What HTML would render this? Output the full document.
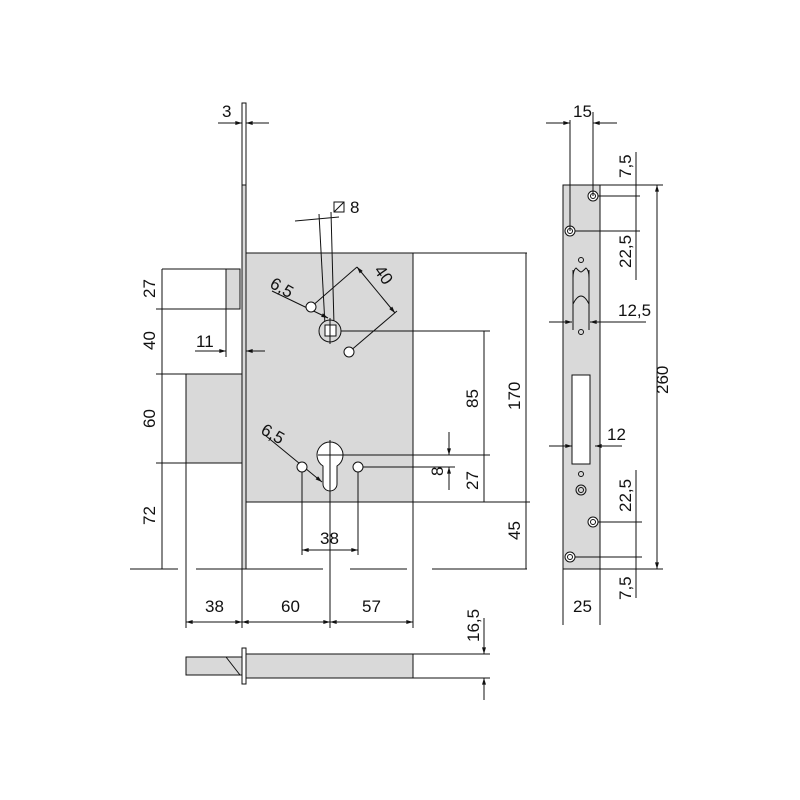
<!DOCTYPE html><html><head><style>body{margin:0;background:#fff}svg{display:block}text{font-family:"Liberation Sans",sans-serif;font-size:17px;fill:#111}</style></head><body>
<svg width="800" height="800" viewBox="0 0 800 800" xmlns="http://www.w3.org/2000/svg">
<defs><marker id="a" viewBox="0 0 10 6" refX="10" refY="3" markerWidth="8" markerHeight="4" orient="auto-start-reverse"><path d="M0,0L10,3L0,6z" fill="#111"/></marker></defs>
<g stroke="#111" stroke-width="1" fill="none">
<rect x="242" y="103" width="4" height="466" fill="#fff"/>
<rect x="242" y="185" width="4" height="384" fill="#d9d9d9"/>
<rect x="246" y="253" width="167" height="249" fill="#d9d9d9"/>
<rect x="226" y="269" width="14" height="40" fill="#d9d9d9"/>
<line x1="162" y1="269" x2="240" y2="269"/><line x1="156" y1="309" x2="240" y2="309"/>
<rect x="186" y="374" width="56" height="89" fill="#d9d9d9"/>
<line x1="156" y1="374" x2="186" y2="374"/><line x1="156" y1="463" x2="186" y2="463"/>
<line x1="186" y1="463" x2="186" y2="628"/>
<line x1="162" y1="269" x2="162" y2="569"/>
<line x1="130" y1="569" x2="178" y2="569"/><line x1="196" y1="569" x2="323" y2="569"/><line x1="350" y1="569" x2="407" y2="569"/><line x1="432" y1="569" x2="527" y2="569"/>
<line x1="195" y1="351" x2="226" y2="351" marker-end="url(#a)"/><line x1="265" y1="351" x2="246" y2="351" marker-end="url(#a)"/>
<line x1="226" y1="309" x2="226" y2="357"/>
<line x1="218" y1="123" x2="242" y2="123" marker-end="url(#a)"/><line x1="269" y1="123" x2="246" y2="123" marker-end="url(#a)"/>
<line x1="242" y1="116" x2="242" y2="130"/><line x1="246" y1="116" x2="246" y2="130"/>
<line x1="295" y1="221" x2="339" y2="217"/><line x1="319" y1="214" x2="325" y2="325"/><line x1="331" y1="212" x2="334" y2="325"/>
<line x1="311" y1="307" x2="357" y2="267"/><line x1="349" y1="352" x2="397" y2="311"/><line x1="357" y1="267" x2="395" y2="313" marker-start="url(#a)" marker-end="url(#a)"/>
<line x1="272" y1="291" x2="328" y2="318" marker-end="url(#a)"/>
<line x1="266" y1="436" x2="322" y2="482" marker-end="url(#a)"/>
<circle cx="330" cy="331" r="11" fill="#d9d9d9"/><rect x="325" y="325" width="11" height="11" fill="#fff"/>
<line x1="330" y1="318" x2="330" y2="344"/>
<circle cx="311" cy="307" r="5" fill="#fff"/><circle cx="349" cy="352" r="5" fill="#fff"/>
<line x1="341" y1="331" x2="490" y2="331"/>
<path d="M323,466 A13,13 0 1 1 337,466 L337,484 A7,7 0 0 1 323,484 Z" fill="#fff"/>
<line x1="330" y1="440" x2="330" y2="628"/><line x1="318" y1="455" x2="490" y2="455"/>
<circle cx="302" cy="467" r="5" fill="#fff"/><circle cx="358" cy="467" r="5" fill="#fff"/>
<line x1="302" y1="472" x2="302" y2="555"/><line x1="358" y1="472" x2="358" y2="555"/>
<line x1="363" y1="467" x2="455" y2="467"/>
<line x1="302" y1="550" x2="358" y2="550" marker-start="url(#a)" marker-end="url(#a)"/>
<line x1="449" y1="432" x2="449" y2="455" marker-end="url(#a)"/><line x1="449" y1="490" x2="449" y2="467" marker-end="url(#a)"/>
<line x1="484" y1="331" x2="484" y2="502" />
<line x1="413" y1="253" x2="527" y2="253"/><line x1="413" y1="502" x2="530" y2="502"/>
<line x1="526" y1="253" x2="526" y2="569"/>
<line x1="413" y1="502" x2="413" y2="628"/>
<line x1="186" y1="622" x2="242" y2="622" marker-start="url(#a)" marker-end="url(#a)"/>
<line x1="242" y1="622" x2="330" y2="622" marker-start="url(#a)" marker-end="url(#a)"/>
<line x1="330" y1="622" x2="413" y2="622" marker-start="url(#a)" marker-end="url(#a)"/>
<line x1="242" y1="569" x2="242" y2="628"/>
<rect x="186" y="657" width="56" height="18" fill="#d9d9d9"/>
<line x1="226" y1="657" x2="240" y2="675"/>
<rect x="246" y="654" width="167" height="24" fill="#d9d9d9"/>
<rect x="242" y="648" width="4" height="36" fill="#fff"/>
<line x1="413" y1="654" x2="490" y2="654"/><line x1="413" y1="678" x2="490" y2="678"/>
<line x1="484" y1="618" x2="484" y2="654" marker-end="url(#a)"/><line x1="484" y1="700" x2="484" y2="678" marker-end="url(#a)"/>
<rect x="563" y="185" width="37" height="384" fill="#d9d9d9"/>
<rect x="572" y="375" width="18" height="89" fill="#fff"/>
<path d="M573,278 q0,-8 3,-10 q4,4 5,4 q1,0 5,-4 q3,2 3,10 M573,304 q4,-8 8,-8 q4,0 8,8" />
<line x1="573" y1="270" x2="573" y2="330"/><line x1="589" y1="270" x2="589" y2="330"/>
<circle cx="581" cy="260" r="2.5"/><circle cx="581" cy="332" r="2.5"/><circle cx="581" cy="474" r="2.5"/>
<circle cx="581" cy="490" r="5"/><circle cx="581" cy="490" r="2.5"/>
<g fill="#fff"><circle cx="593" cy="196" r="5"/><circle cx="570" cy="231" r="5"/><circle cx="593" cy="522" r="5"/><circle cx="570" cy="557" r="5"/></g>
<g><circle cx="593" cy="196" r="2.5"/><circle cx="570" cy="231" r="2.5"/><circle cx="593" cy="522" r="2.5"/><circle cx="570" cy="557" r="2.5"/></g>
<line x1="570" y1="120" x2="570" y2="231"/><line x1="593" y1="112" x2="593" y2="196"/>
<line x1="546" y1="123" x2="570" y2="123" marker-end="url(#a)"/><line x1="617" y1="123" x2="593" y2="123" marker-end="url(#a)"/>
<line x1="600" y1="185" x2="663" y2="185"/><line x1="600" y1="569" x2="663" y2="569"/>
<line x1="598" y1="196" x2="640" y2="196"/><line x1="575" y1="231" x2="640" y2="231"/>
<line x1="598" y1="522" x2="642" y2="522"/><line x1="575" y1="557" x2="642" y2="557"/>
<line x1="636" y1="152" x2="636" y2="280"/><line x1="636" y1="470" x2="636" y2="598"/>
<line x1="657" y1="185" x2="657" y2="569" marker-start="url(#a)" marker-end="url(#a)"/>
<line x1="549" y1="322" x2="572" y2="322" marker-end="url(#a)"/><line x1="646" y1="322" x2="590" y2="322" marker-end="url(#a)"/>
<line x1="549" y1="446" x2="572" y2="446" marker-end="url(#a)"/><line x1="622" y1="446" x2="595" y2="446" marker-end="url(#a)"/>
<line x1="563" y1="569" x2="563" y2="625"/><line x1="600" y1="569" x2="600" y2="625"/>
</g>
<text x="222" y="117">3</text>
<text x="350" y="213">8</text>
<path d="M334,202h10v10h-10zM334,212l10,-10" stroke="#111" fill="none"/>
<text x="270" y="294" transform="rotate(30 283 288)">6,5</text>
<text x="368" y="281" transform="rotate(55 381 281)">40</text>
<text x="260" y="440" transform="rotate(30 273 436)">6,5</text>
<text x="196" y="347">11</text>
<g transform="rotate(-90)">
<text x="-298" y="155">27</text><text x="-350" y="155">40</text><text x="-428" y="155">60</text><text x="-525" y="155">72</text>
<text x="-408" y="478">85</text><text x="-410" y="520">170</text><text x="-540" y="520">45</text>
<text x="-490" y="478">27</text><text x="-476" y="443">8</text>
<text x="-642" y="479">16,5</text>
<text x="-178" y="631">7,5</text><text x="-268" y="631">22,5</text><text x="-394" y="668">260</text>
<text x="-512" y="631">22,5</text><text x="-600" y="631">7,5</text>
</g>
<text x="320" y="544">38</text>
<text x="205" y="612">38</text><text x="281" y="612">60</text><text x="362" y="612">57</text>
<text x="573" y="117">15</text><text x="618" y="316">12,5</text><text x="607" y="440">12</text>
<text x="573" y="612">25</text>
</svg></body></html>
